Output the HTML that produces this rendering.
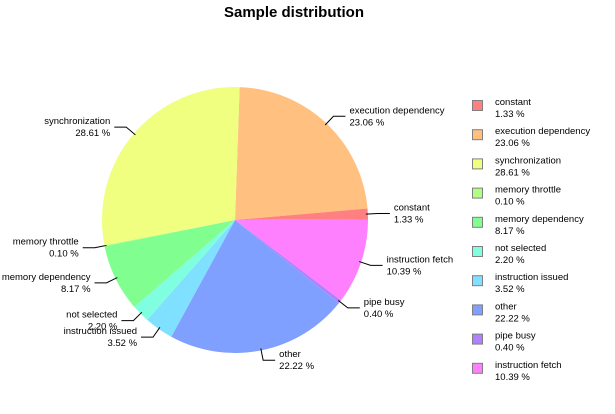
<!DOCTYPE html>
<html><head><meta charset="utf-8"><style>
body{margin:0;background:#fff;width:615px;height:409px;overflow:hidden}
svg text{font-family:"Liberation Sans",sans-serif;font-size:9.5px;fill:#000}
</style></head><body>
<svg id="c" width="615" height="409">
<text x="294" y="17" text-anchor="middle" style="font-size:15px;font-weight:bold">Sample distribution</text>
</svg>
<script>
const categories=["execution dependency","constant","instruction fetch","pipe busy","other","instruction issued","not selected","memory dependency","memory throttle","synchronization"];
const values=[23.06,1.33,10.39,0.40,22.22,3.52,2.20,8.17,0.10,28.61];
const colors=["#ffc080","#ff8080","#ff80ff","#b080ff","#80a0ff","#80e0ff","#80ffe0","#80ff90","#b0ff80","#f0ff80"];
const legendOrder=["constant","execution dependency","synchronization","memory throttle","memory dependency","not selected","instruction issued","other","pipe busy","instruction fetch"];
const NS="http://www.w3.org/2000/svg";
const svg=document.getElementById('c');
const cx=235,cy=220,r=133,start=2;
function mk(t,a){const e=document.createElementNS(NS,t);for(const k in a)e.setAttribute(k,a[k]);svg.appendChild(e);return e;}
function pt(deg,rad){const a=deg*Math.PI/180;return [cx+rad*Math.sin(a),cy-rad*Math.cos(a)];}
const total=values.reduce((a,b)=>a+b,0);
let acc=start;
values.forEach((v,i)=>{
  const sweep=v/total*360;const a0=acc,a1=acc+sweep;acc=a1;
  const p0=pt(a0,r),p1=pt(a1,r);
  const s=mk('path',{d:`M${cx},${cy}L${p0[0]},${p0[1]}A${r},${r} 0 ${sweep>180?1:0} 1 ${p1[0]},${p1[1]}Z`,fill:colors[i]});
  
  
  const m=(a0+a1)/2;const e=pt(m,r-2),k=pt(m,r+10);
  const right=Math.sin(m*Math.PI/180)>=0;
  const hx=k[0]+(right?12:-12);
  const l=mk('polyline',{points:`${e[0]},${e[1]} ${k[0]},${k[1]} ${hx},${k[1]}`,fill:'none',stroke:'#000','stroke-width':1});
  
  
  const tx=hx+(right?4:-4),anc=right?'start':'end';
  const t1=mk('text',{x:tx,y:k[1]-3,'text-anchor':anc});t1.textContent=categories[i];
  
  
  const t2=mk('text',{x:tx,y:k[1]+9,'text-anchor':anc});t2.textContent=v.toFixed(2)+' %';
  
  
});
legendOrder.forEach((name,j)=>{
  const i=categories.indexOf(name);const y=106+j*29.2;
  const sq=mk('rect',{x:472.5,y:y-5.5,width:10,height:10,fill:colors[i],stroke:'#808080','stroke-width':1});
  
  
  const t1=mk('text',{x:495,y:y-1});t1.textContent=name;
  
  
  const t2=mk('text',{x:495,y:y+11});t2.textContent=values[i].toFixed(2)+' %';
  
  
});
</script>
</body></html>
